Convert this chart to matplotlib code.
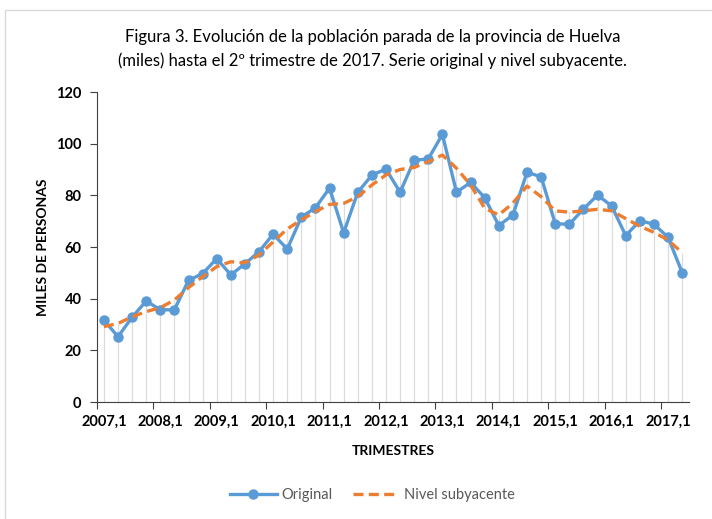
import matplotlib.pyplot as plt
from matplotlib.patches import Rectangle
import numpy as np

# quarters 2007,1 .. 2017,2
years = list(range(2007, 2018))
quarters = [f"{y},{q}" for y in years for q in range(1, 5)][:42]

original = [31.7, 25.3, 32.8, 39.1, 35.7, 35.7, 47.1, 49.7, 55.5, 49.2,
            53.5, 58.2, 65.0, 59.2, 71.6, 75.2, 82.8, 65.5, 81.2, 87.8,
            90.2, 81.2, 93.6, 94.1, 103.6, 81.2, 85.0, 79.1, 68.3, 72.4,
            88.9, 87.2, 69.0, 68.8, 74.7, 80.1, 75.9, 64.4, 70.2, 68.8,
            63.8, 50.1]
trend = [29.2, 30.4, 33.0, 35.0, 36.5, 39.5, 44.3, 48.5, 52.4, 54.3,
         53.9, 56.9, 62.0, 67.0, 70.5, 73.7, 76.5, 76.9, 79.5, 84.0,
         87.9, 90.0, 90.8, 93.0, 95.6, 90.5, 84.0, 75.0, 72.4, 77.0,
         83.6, 79.5, 74.0, 73.5, 74.0, 74.6, 74.0, 71.0, 68.0, 65.7,
         62.7, 57.8]

plt.rcParams['font.family'] = ['Lato', 'DejaVu Sans']

fig = plt.figure(figsize=(7.12, 5.19), dpi=100)
fig.patches.append(Rectangle((0.007, -0.01), 1.0, 0.99, transform=fig.transFigure,
                             fill=False, edgecolor='#d9d9d9', linewidth=1))
ax = fig.add_axes([0.136, 0.2254, 0.832, 0.5973])

x = np.arange(len(original))
tops = np.maximum(original, trend)
ax.vlines(x, 0, tops, color='#dcdcdc', linewidth=0.9, zorder=1)
ax.plot(x, original, color='#5b9bd5', linewidth=2.4, marker='o', markersize=6.5,
        label='Original', zorder=3)
ax.plot(x, trend, color='#ed7d31', linewidth=2.4, linestyle=(0, (3, 1.6)),
        label='Nivel subyacente', zorder=4)

ax.set_xlim(-0.5, len(original) - 0.5)
ax.set_ylim(0, 120)
ax.set_yticks(range(0, 121, 20))
ax.set_xticks(np.arange(-0.5, len(original) - 1, 4))
ax.set_xticklabels([])
ax.set_xticks(x[::4], minor=True)
ax.set_xticklabels(quarters[::4], minor=True)
ax.tick_params(axis='x', which='minor', length=0, pad=9)
ax.tick_params(axis='x', which='major', length=5, color='#404040')
ax.tick_params(axis='y', length=5, color='#404040', pad=6)
for lab in ax.get_xticklabels(minor=True) + ax.get_yticklabels():
    lab.set_fontsize(10.5)
    lab.set_fontweight('bold')
for s in ['top', 'right']:
    ax.spines[s].set_visible(False)
for s in ['left', 'bottom']:
    ax.spines[s].set_color('#404040')

ax.set_xlabel('TRIMESTRES', fontsize=10, fontweight='bold', labelpad=12)
ax.set_ylabel('MILES DE PERSONAS', fontsize=10, fontweight='bold', labelpad=5)

fig.text(0.523, 0.928, 'Figura 3. Evolución de la población parada de la provincia de Huelva',
         ha='center', va='center', fontsize=12)
fig.text(0.523, 0.883, '(miles) hasta el 2º trimestre de 2017. Serie original y nivel subyacente.',
         ha='center', va='center', fontsize=12)

fig.legend(loc='center', bbox_to_anchor=(0.523, 0.046), ncol=2, frameon=False,
           fontsize=10.5, labelcolor='#595959', handlelength=3.2, columnspacing=1.4,
           handletextpad=0.3)

fig.savefig('out.png', dpi=100)
